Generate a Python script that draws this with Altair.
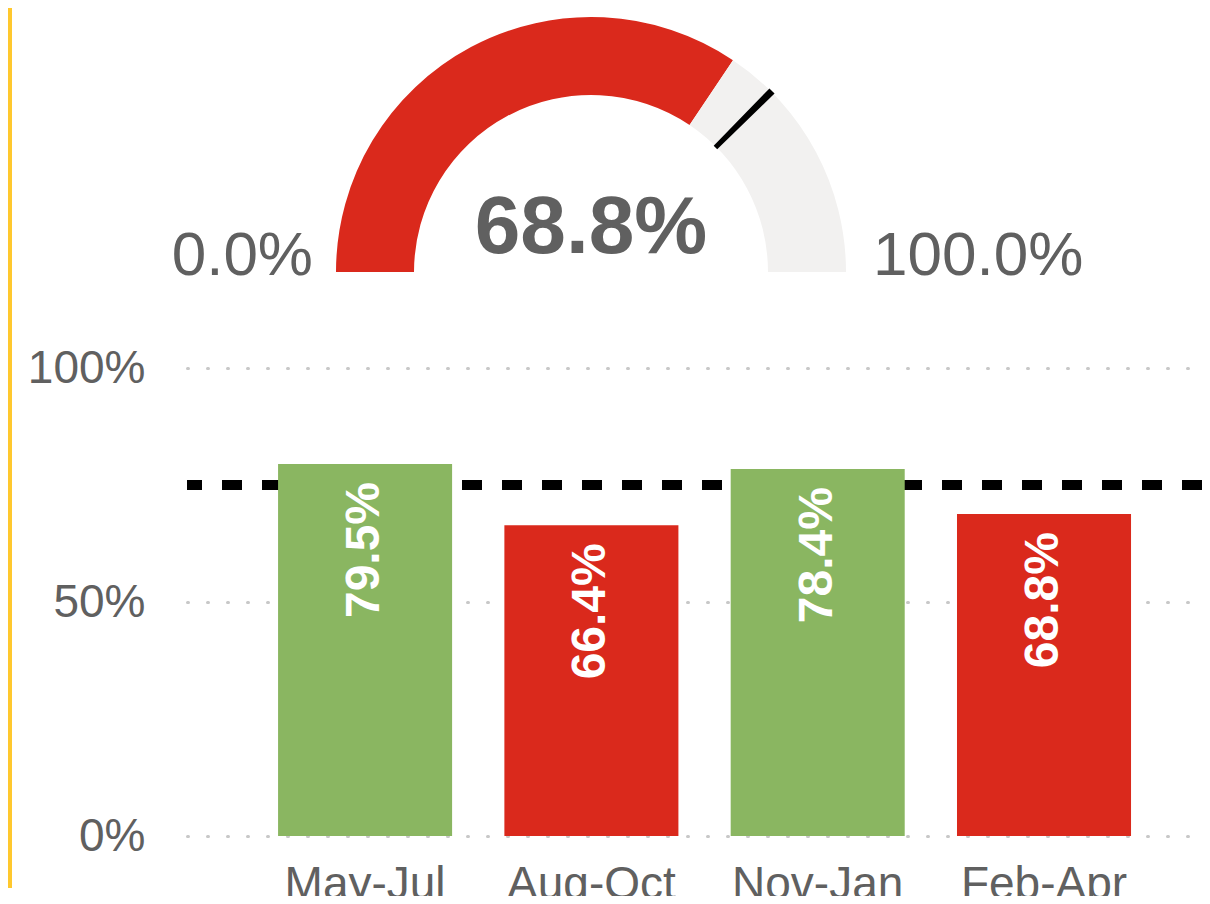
import math
import altair as alt
import pandas as pd

# ---- data ----
periods = ["May-Jul", "Aug-Oct", "Nov-Jan", "Feb-Apr"]
values = [0.795, 0.664, 0.784, 0.688]
target = 0.75
gauge_value = 0.688
gauge_min = 0.0
gauge_max = 1.0

GREEN = "#8AB661"
RED = "#DA291C"
TRACK = "#F2F1F0"
TEXT = "#606060"
FONT = "Liberation Sans"

bars_df = pd.DataFrame({
    "period": periods,
    "value": values,
    "status": ["above" if v >= target else "below" for v in values],
})
target_df = pd.DataFrame({"target": [target]})
gauge_df = pd.DataFrame({
    "start": [gauge_min, gauge_value],
    "end": [gauge_value, gauge_max],
    "part": ["value", "rest"],
})
tick_half = 0.0045
tick_df = pd.DataFrame({"start": [target - tick_half], "end": [target + tick_half]})
center_df = pd.DataFrame({"v": [gauge_value]})
min_df = pd.DataFrame({"v": [gauge_min]})
max_df = pd.DataFrame({"v": [gauge_max]})

x_enc = alt.X(
    "period:N", sort=periods, title=None,
    scale=alt.Scale(paddingInner=0.231, paddingOuter=0.358, align=0.562),
    axis=alt.Axis(labelAngle=0, labelFontSize=46, labelColor=TEXT, labelFont=FONT,
                  ticks=False, domain=False, labelPadding=26, grid=False),
)
y_enc = alt.Y(
    "value:Q", title=None, scale=alt.Scale(domain=[0, 1]),
    axis=alt.Axis(values=[0, 0.5, 1], format=".0%", labelFontSize=46, labelColor=TEXT,
                  labelFont=FONT, labelPadding=42, ticks=False, domain=False,
                  gridColor="#C8C8C8", gridDash=[1, 19], gridWidth=3, gridCap="round"),
)

yellow = alt.Chart(target_df).mark_rule(color="#FFC82E", strokeWidth=4).encode(
    x=alt.value(-177), y=alt.value(-360), y2=alt.value(520)
)

target_rule = alt.Chart(target_df).mark_rule(
    color="black", strokeWidth=10, strokeDash=[20, 20]
).encode(y=alt.Y("target:Q", scale=alt.Scale(domain=[0, 1])))

bars = alt.Chart(bars_df).mark_bar().encode(
    x=x_enc, y=y_enc,
    color=alt.Color("status:N", scale=alt.Scale(domain=["above", "below"], range=[GREEN, RED]),
                    legend=None),
)

bar_labels = alt.Chart(bars_df).mark_text(
    angle=270, align="right", baseline="middle", dx=-18,
    font=FONT, fontSize=48, fontWeight="bold", color="white",
).encode(
    x=alt.X("period:N", sort=periods),
    y=alt.Y("value:Q"),
    text=alt.Text("value:Q", format=".1%"),
)

theta_scale = alt.Scale(domain=[0, 1], range=[-math.pi / 2, math.pi / 2])

gauge = alt.Chart(gauge_df).mark_arc(radius=255, radius2=177).encode(
    theta=alt.Theta("start:Q", stack=None, scale=theta_scale),
    theta2="end:Q",
    color=alt.Color("part:N", scale=alt.Scale(domain=["value", "rest"], range=[RED, TRACK]),
                    legend=None),
    x=alt.value(404), y=alt.value(-96),
)

tick = alt.Chart(tick_df).mark_arc(radius=256, radius2=176, color="black").encode(
    theta=alt.Theta("start:Q", stack=None, scale=theta_scale),
    theta2="end:Q",
    x=alt.value(404), y=alt.value(-96),
)

center_text = alt.Chart(center_df).mark_text(
    align="center", baseline="alphabetic", font=FONT, fontSize=82,
    fontWeight="bold", color=TEXT,
).encode(text=alt.Text("v:Q", format=".1%"), x=alt.value(404), y=alt.value(-115))

min_text = alt.Chart(min_df).mark_text(
    align="right", baseline="alphabetic", font=FONT, fontSize=62, color=TEXT,
).encode(text=alt.Text("v:Q", format=".1%"), x=alt.value(126), y=alt.value(-93))

max_text = alt.Chart(max_df).mark_text(
    align="left", baseline="alphabetic", font=FONT, fontSize=62, color=TEXT,
).encode(text=alt.Text("v:Q", format=".1%"), x=alt.value(686), y=alt.value(-93))

chart = alt.layer(
    yellow, target_rule, bars, bar_labels, gauge, tick, center_text, min_text, max_text
).resolve_scale(color="independent").properties(
    width=1015, height=468,
    autosize=alt.AutoSizeParams(type="none"),
    padding={"left": 179, "top": 360, "right": 0, "bottom": 60},
    background="white",
).configure_view(stroke=None)

chart.save("out.html", embed_options={"renderer": "svg", "actions": False})
